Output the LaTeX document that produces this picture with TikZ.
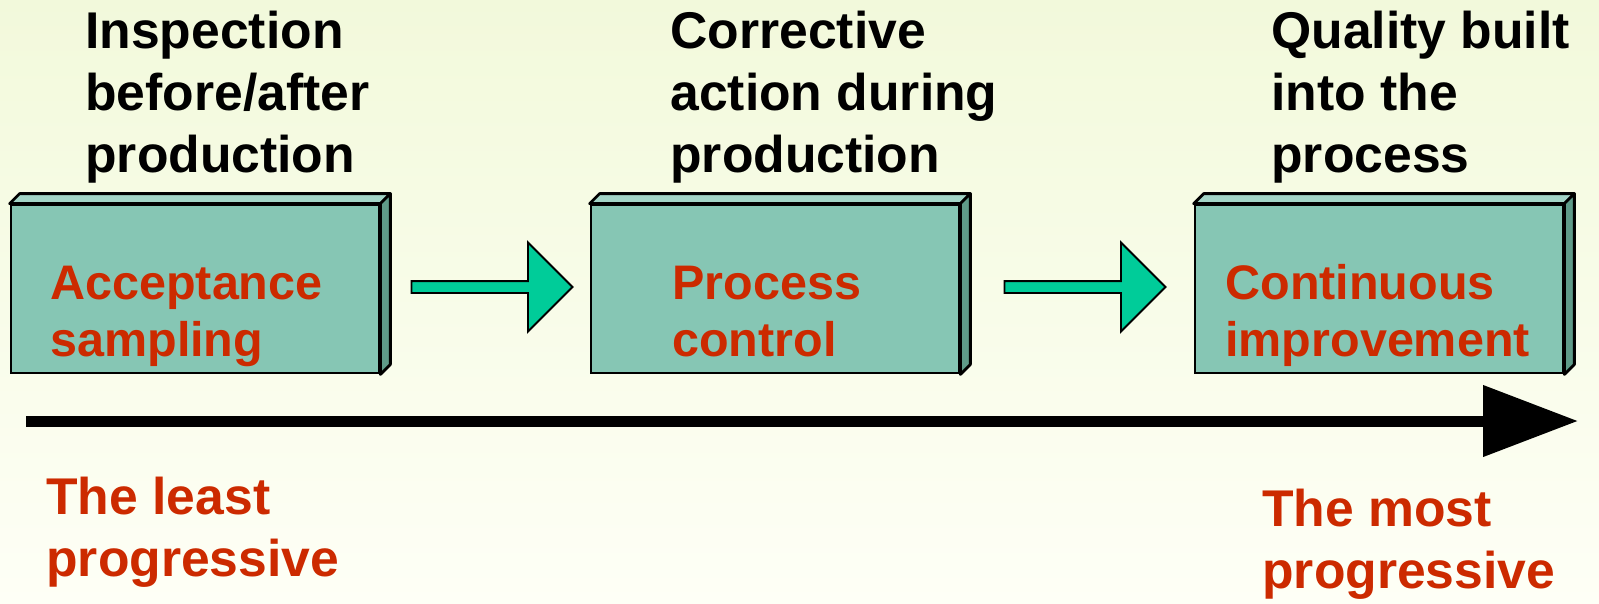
\documentclass[tikz,border=0pt]{standalone}
\usepackage{fontspec}
\setmainfont{Liberation Sans}
\usetikzlibrary{arrows.meta, positioning, shapes.arrows}

\definecolor{slabfront}{HTML}{86C6B4}
\definecolor{slabtop}{HTML}{A3D5C7}
\definecolor{slabside}{HTML}{5F9B89}
\definecolor{flowgreen}{HTML}{00CC99}
\definecolor{stagered}{HTML}{CC2A00}
\definecolor{bgtop}{HTML}{F2F9DB}
\definecolor{bgbottom}{HTML}{FEFFF6}

\begin{document}
\begin{tikzpicture}[
  x=0.02cm, y=-0.02cm,
    slab/.style={
        draw,
        fill=slabfront,
        line width=1.6pt,
        minimum width=7.36cm,
        minimum height=3.36cm
    },
    slabtext/.style={
        anchor=base west,
        inner sep=0pt,
        align=left,
        text=stagered,
        font=\fontsize{27.6}{32.4}\selectfont\bfseries
    },
    stage/.style={
        anchor=base west,
        inner sep=0pt,
        align=left,
        font=\fontsize{29.4}{35.2}\selectfont\bfseries
    },
    flow/.style={
        single arrow,
        draw,
        fill=flowgreen,
        line width=1.1pt,
        minimum height=3.22cm,
        single arrow head extend=0.77cm,
        single arrow tip angle=90,
        inner xsep=0pt,
        inner ysep=0.1cm,
        text height=0pt,
        text depth=0pt
    },
    timeline/.style={
        line width=0.22cm,
        -{Triangle[length=1.9cm, width=1.38cm]}
    }
]

% background
\shade[top color=bgtop, bottom color=bgbottom] (0,0) rectangle (1599,603);
\useasboundingbox (0,0) rectangle (1599,603);

% the three slabs
\node[slab] (accept) at (195,289) {};
\node[slab] (proc) at (775,289) {};
\node[slab] (improve) at (1379,289) {};

\foreach \b in {accept,proc,improve} {
  \filldraw[fill=slabtop, line width=1.6pt, line join=round]
    (\b.north west) -- ++(10,-10) -- ([shift={(10,-10)}]\b.north east)
    -- (\b.north east) -- cycle;
  \filldraw[fill=slabside, line width=1.6pt, line join=round]
    (\b.north east) -- ++(10,-10) -- ([shift={(10,-10)}]\b.south east)
    -- (\b.south east) -- cycle;
}

% base anchor sits on the last line
\node[slabtext] (acceptTxt) at (50,356) {Acceptance\\sampling};
\node[slabtext] (procTxt) at (672,356) {Process\\control};
\node[slabtext] (improveTxt) at (1225,356) {Continuous\\improvement};

% stage captions
\node[stage] (inspect) at (85,172) {Inspection\\before/after\\production};
\node[stage] (correct) at (670,172) {Corrective\\action during\\production};
\node[stage] (builtin) at (1271,172) {Quality built\\into the\\process};

% arrows between slabs
\node[flow] (flowA) at (489,287) {};
\node[flow] (flowB) at (1082,287) {};

% progress axis
\coordinate (tail) at (26,421);
\coordinate (tip) at (1578,421);
\draw[timeline] (tail) -- (tip);

\node[stage, text=stagered] (least) at (46,576) {The least\\progressive};
\node[stage, text=stagered] (most) at (1262,588) {The most\\progressive};

\end{tikzpicture}
\end{document}
